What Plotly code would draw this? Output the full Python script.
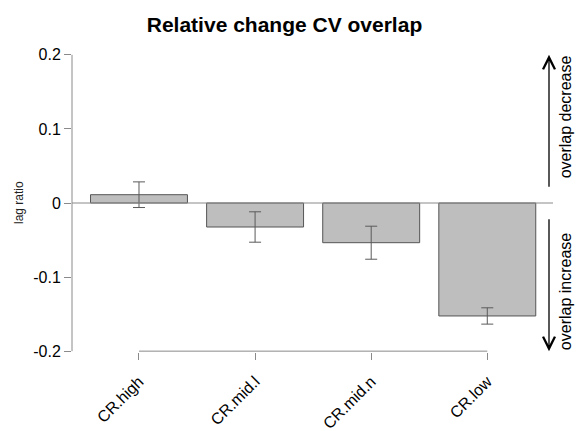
import plotly.graph_objects as go

categories = ["CR.high", "CR.mid.l", "CR.mid.n", "CR.low"]
values = [0.0112, -0.0324, -0.0536, -0.1525]
errors = [0.0173, 0.0205, 0.0223, 0.0110]
ytick_vals = [-0.2, -0.1, 0, 0.1, 0.2]
ytick_text = ["-0.2", "-0.1", "0", "0.1", "0.2"]
title_text = "Relative change CV overlap"
ylabel_text = "lag ratio"
upper_note = "overlap decrease"
lower_note = "overlap increase"

FONT = "Liberation Sans, Arial, Helvetica, sans-serif"
AXC = "#8a8a8a"

W, H = 576, 431
ML, MR, MT, MB = 72, 23, 43, 68
PW = W - ML - MR
PH = H - MT - MB


def px_to_paper_x(px):
    return (px - ML) / PW


fig = go.Figure()
fig.add_trace(go.Bar(
    x=categories,
    y=values,
    width=0.835,
    marker=dict(color="#bebebe", line=dict(color="#555555", width=1)),
    error_y=dict(type="data", array=errors, visible=True,
                 color="#5a5a5a", thickness=1, width=6),
    showlegend=False,
    hoverinfo="skip",
))

shapes = [
    dict(type="line", xref="paper", yref="y", x0=0, x1=1, y0=0, y1=0,
         line=dict(color=AXC, width=1), layer="above"),
    dict(type="line", xref="paper", yref="y", x0=0, x1=0,
         y0=ytick_vals[0], y1=ytick_vals[-1], line=dict(color=AXC, width=1)),
    dict(type="line", xref="x", yref="y", x0=0, x1=len(categories) - 1,
         y0=ytick_vals[0], y1=ytick_vals[0], line=dict(color=AXC, width=1)),
]

annotations = [
    dict(text=ylabel_text, xref="paper", yref="y", x=px_to_paper_x(19), y=0,
         xanchor="center", yanchor="middle",
         textangle=-90, showarrow=False, font=dict(size=12, color="#222", family=FONT)),
    dict(text="", xref="paper", yref="y", x=px_to_paper_x(549), y=0.2,
         axref="pixel", ayref="y", ax=0, ay=0.02, showarrow=True,
         arrowhead=5, arrowsize=1.8, arrowwidth=1.3, arrowcolor="black"),
    dict(text="", xref="paper", yref="y", x=px_to_paper_x(549), y=-0.2,
         axref="pixel", ayref="y", ax=0, ay=-0.02, showarrow=True,
         arrowhead=5, arrowsize=1.8, arrowwidth=1.3, arrowcolor="black"),
    dict(text=upper_note, xref="paper", yref="y", x=px_to_paper_x(565), y=0.2,
         xanchor="center", yanchor="top", borderpad=0,
         textangle=-90, showarrow=False, font=dict(size=16, color="black", family=FONT)),
    dict(text=lower_note, xref="paper", yref="y", x=px_to_paper_x(565), y=-0.2,
         xanchor="center", yanchor="bottom", borderpad=0,
         textangle=-90, showarrow=False, font=dict(size=16, color="black", family=FONT)),
]

fig.update_layout(
    template="none",
    width=W, height=H, autosize=False,
    margin=dict(l=ML, r=MR, t=MT, b=MB, pad=0, autoexpand=False),
    paper_bgcolor="white", plot_bgcolor="white",
    font=dict(family=FONT, color="black", size=16),
    title=dict(text="<b>" + title_text + "</b>", x=284.5 / W, y=1 - 25 / H,
               xref="container", yref="container", xanchor="center", yanchor="middle",
               automargin=False,
               font=dict(size=21, family=FONT, color="black")),
    xaxis=dict(type="category", range=[-0.577, 3.566], showgrid=False, zeroline=False,
               showline=False, ticks="outside", ticklen=7, tickcolor=AXC, tickwidth=1,
               tickangle=-45, anchor="free", position=(363 - 352) / PH, automargin=False,
               ticklabelstandoff=6,
               tickfont=dict(size=16, family=FONT, color="black")),
    yaxis=dict(range=[-0.216, 0.216], showgrid=False, zeroline=False, showline=False,
               tickvals=ytick_vals, ticktext=ytick_text, ticks="outside", ticklen=7,
               tickcolor=AXC, tickwidth=1, automargin=False,
               tickfont=dict(size=16, family=FONT, color="black")),
    shapes=shapes,
    annotations=annotations,
    hovermode=False,
)

fig.write_html("out.html",
               config={"displayModeBar": False, "staticPlot": True},
               post_script="document.body.style.margin='0';document.body.style.padding='0';document.body.style.overflow='hidden';")
